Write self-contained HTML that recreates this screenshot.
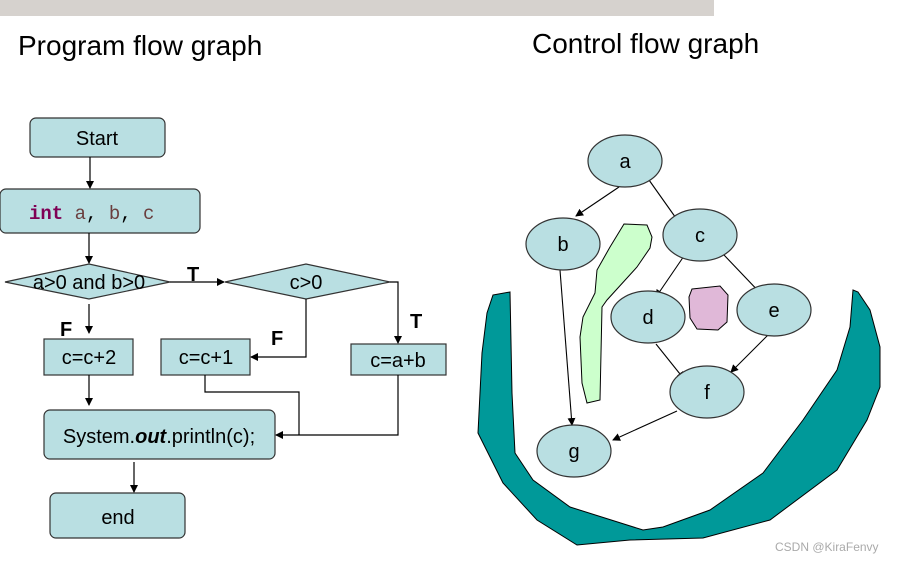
<!DOCTYPE html>
<html><head><meta charset="utf-8"><style>
body{margin:0;background:#fff;width:908px;height:563px;overflow:hidden}
svg text{font-family:"Liberation Sans",sans-serif}
</style></head><body>
<svg width="908" height="563" viewBox="0 0 908 563" xmlns="http://www.w3.org/2000/svg">
<defs><marker id="ar" markerWidth="8" markerHeight="8" refX="7" refY="4" orient="auto" markerUnits="userSpaceOnUse"><path d="M0,0 L8,4 L0,8 z" fill="#000"/></marker></defs>
<rect x="0" y="0" width="714" height="16" fill="#d6d2ce"/>
<text x="18" y="55" font-size="28">Program flow graph</text>
<text x="532" y="53" font-size="28">Control flow graph</text>
<g stroke="#333" stroke-width="1.2" fill="#b9dfe2">
<rect x="30" y="118" width="135" height="39" rx="6"/>
<rect x="0" y="189" width="200" height="44" rx="6"/>
<polygon points="5,282 89,264 170,282 89,299"/>
<polygon points="225,282 306,264 390,282 306,299"/>
<rect x="351" y="344" width="95" height="31"/>
<rect x="161" y="339" width="89" height="36"/>
<rect x="44" y="339" width="89" height="36"/>
<rect x="44" y="410" width="231" height="49" rx="6"/>
<rect x="50" y="493" width="135" height="45" rx="6"/>
</g>
<g stroke="#000" stroke-width="1.2" fill="none">
<line x1="90" y1="157" x2="90" y2="188" marker-end="url(#ar)"/>
<line x1="89" y1="233" x2="89" y2="263" marker-end="url(#ar)"/>
<line x1="170" y1="282" x2="224" y2="282" marker-end="url(#ar)"/>
<polyline points="390,282 398,282 398,343" marker-end="url(#ar)"/>
<polyline points="306,299 306,357 251,357" marker-end="url(#ar)"/>
<line x1="89" y1="304" x2="89" y2="333" marker-end="url(#ar)"/>
<polyline points="205,375 205,392 299,392 299,435"/>
<polyline points="398,375 398,435 276,435" marker-end="url(#ar)"/>
<line x1="89" y1="375" x2="89" y2="405" marker-end="url(#ar)"/>
<line x1="134" y1="462" x2="134" y2="492" marker-end="url(#ar)"/>
</g>
<g font-size="20" text-anchor="middle">
<text x="97" y="145">Start</text>
<text x="89" y="289">a&gt;0 and b&gt;0</text>
<text x="306" y="289">c&gt;0</text>
<text x="398" y="367">c=a+b</text>
<text x="206" y="364">c=c+1</text>
<text x="89" y="364">c=c+2</text>
<text x="159" y="443">System.<tspan font-weight="bold" font-style="italic">out</tspan>.println(c);</text>
<text x="118" y="524">end</text>
</g>
<text x="29" y="219" font-size="19" font-family="Liberation Mono,monospace" style="font-family:'Liberation Mono',monospace"><tspan fill="#7f0055" font-weight="bold">int</tspan><tspan fill="#6a3e3e"> a</tspan><tspan fill="#000">,</tspan><tspan fill="#6a3e3e"> b</tspan><tspan fill="#000">,</tspan><tspan fill="#6a3e3e"> c</tspan></text>
<g font-size="20" font-weight="bold">
<text x="187" y="281">T</text>
<text x="410" y="328">T</text>
<text x="271" y="345">F</text>
<text x="60" y="336">F</text>
</g>
<path d="M493,295 L510,292 L512,393 L515,453 L533,480 L570,507 L643,530 L663,527 L710,510 L763,473 L803,420 L837,370 L850,327 L853,290 L858,292 L870,310 L880,347 L880,387 L867,420 L837,470 L770,520 L703,538 L630,540 L577,545 L537,520 L503,483 L478,433 L482,353 L487,313 Z" fill="#009999" stroke="#000" stroke-width="1"/>
<path d="M624,224 L647,225 L652,237 L650,248 L637,267 L607,300 L602,307 L600,400 L587,403 L582,383 L580,337 L583,317 L595,293 L597,270 L610,247 Z" fill="#ccffcc" stroke="#000" stroke-width="1"/>
<path d="M692,289 L720,286 L728,295 L727,322 L718,330 L697,329 L690,318 L689,297 Z" fill="#e0b8d8" stroke="#000" stroke-width="1"/>
<g stroke="#000" stroke-width="1.1" fill="none">
<line x1="619" y1="187" x2="576" y2="216" marker-end="url(#ar)"/>
<line x1="649" y1="180" x2="683" y2="228" marker-end="url(#ar)"/>
<line x1="560" y1="270" x2="572" y2="425" marker-end="url(#ar)"/>
<line x1="684" y1="256" x2="656" y2="297" marker-end="url(#ar)"/>
<line x1="724" y1="255" x2="765" y2="298" marker-end="url(#ar)"/>
<line x1="656" y1="344" x2="684" y2="379" marker-end="url(#ar)"/>
<line x1="773" y1="330" x2="731" y2="372" marker-end="url(#ar)"/>
<line x1="677" y1="411" x2="613" y2="440" marker-end="url(#ar)"/>
</g>
<g fill="#b9dfe2" stroke="#333" stroke-width="1.2">
<ellipse cx="625" cy="161" rx="37" ry="26"/>
<ellipse cx="563" cy="244" rx="37" ry="26"/>
<ellipse cx="700" cy="235" rx="37" ry="26"/>
<ellipse cx="648" cy="317" rx="37" ry="26"/>
<ellipse cx="774" cy="310" rx="37" ry="26"/>
<ellipse cx="707" cy="392" rx="37" ry="26"/>
<ellipse cx="574" cy="451" rx="37" ry="26"/>
</g>
<g font-size="20" text-anchor="middle">
<text x="625" y="168">a</text>
<text x="563" y="251">b</text>
<text x="700" y="242">c</text>
<text x="648" y="324">d</text>
<text x="774" y="317">e</text>
<text x="707" y="399">f</text>
<text x="574" y="458">g</text>
</g>
<text x="775" y="551" font-size="12" fill="#aaa">CSDN @KiraFenvy</text>
</svg>
</body></html>
